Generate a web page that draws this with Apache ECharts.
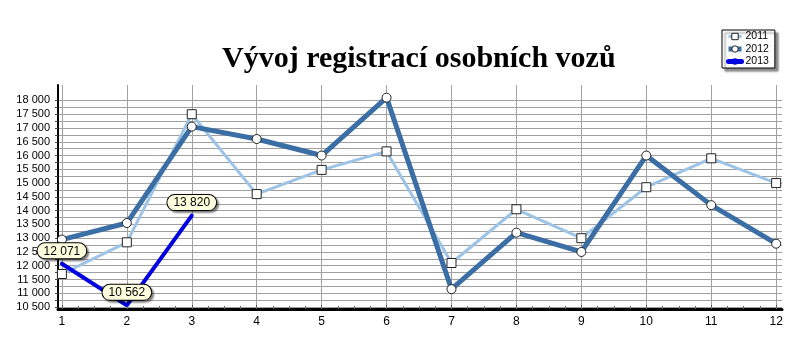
<!DOCTYPE html>
<html>
<head>
<meta charset="utf-8">
<script src="https://cdn.jsdelivr.net/npm/echarts@6/dist/echarts.min.js"></script>
<style>html,body{margin:0;padding:0;background:#fff}#c{width:800px;height:359px}</style>
</head>
<body>
<div id="c"></div>
<script>
const months = [1,2,3,4,5,6,7,8,9,10,11,12];
const s2011 = [11700, 12850, 17500, 14600, 15480, 16150, 12100, 14050, 13000, 14850, 15900, 15000];
const s2012 = [12950, 13550, 17050, 16600, 16000, 18100, 11150, 13200, 12500, 16000, 14200, 12800];
const s2013 = [12071, 10562, 13820];
const yLabelValues = [10500,11000,11500,12000,12500,13000,13500,14000,14500,15000,15500,16000,16500,17000,17500,18000];
const yGridValues = [10500,10750,11000,11250,11500,11750,12000,12250,12500,12750,13000,13250,13500,13750,14000,14250,14500,14750,15000,15250,15500,15750,16000,16250,16500,16750,17000,17250,17500,17750,18000];
const xMinorValues = [];
for (let i = 1; i <= 12; i += 0.25) xMinorValues.push(i);

function fmt(v){ return String(v).replace(/\B(?=(\d{3})+(?!\d))/g, ' '); }
const pairs = (arr) => arr.map((v,i) => [months[i], v]);

const chart = echarts.init(document.getElementById('c'), null, {renderer:'canvas'});
chart.setOption({
  animation: false,
  backgroundColor: '#fff',
  title: {
    text: 'Vývoj registrací osobních vozů',
    left: 217, top: 39,
    textStyle: {fontFamily: '"Liberation Serif","Times New Roman",serif', fontWeight: 'bold', fontSize: 30, color: '#000'}
  },
  legend: {
    left: 722, top: 30, orient: 'vertical',
    padding: [1, 6, 1, 4], itemGap: 1.5, itemWidth: 13, itemHeight: 8,
    backgroundColor: '#fff', borderColor: '#000', borderWidth: 1,
    shadowColor: 'rgba(0,0,0,0.45)', shadowBlur: 2, shadowOffsetX: 3, shadowOffsetY: 3,
    textStyle: {fontFamily: '"Liberation Sans",Arial,sans-serif', fontSize: 10.5, lineHeight: 10, color: '#000', padding: [0,0,0,-1]},
    data: [
      {name: '2011', lineStyle: {color: '#9dc3e6', width: 3}, itemStyle: {color: '#fff', borderColor: '#222', borderWidth: 1}},
      {name: '2012', lineStyle: {color: '#3a6ea5', width: 5}, itemStyle: {color: '#fff', borderColor: '#222', borderWidth: 1}},
      {name: '2013', lineStyle: {color: '#0000e0', width: 5, cap: 'round'}, itemStyle: {color: '#0000e0', borderWidth: 0}}
    ]
  },
  grid: {left: 58, right: 18, top: 85, bottom: 50},
  xAxis: [{
    type: 'value', min: 0.94, max: 12.09,
    axisLine: {lineStyle: {color: '#000', width: 3}},
    axisTick: {show: true, customValues: months, length: 4, inside: true, lineStyle: {color: '#444'}},
    axisLabel: {customValues: months, margin: 7, color: '#000', fontSize: 12, fontFamily: '"Liberation Sans Narrow","Liberation Sans",Arial,sans-serif'},
    splitLine: {show: true, lineStyle: {color: '#a0a0a0', width: 1}}
  }, {
    type: 'value', min: 0.94, max: 12.09, position: 'bottom',
    axisLine: {show: false},
    axisTick: {show: true, customValues: xMinorValues, length: 3, inside: true, lineStyle: {color: '#666'}},
    axisLabel: {show: false},
    splitLine: {show: false}
  }],
  yAxis: {
    type: 'value', min: 10430, max: 18560,
    axisLine: {show: true, lineStyle: {color: '#000', width: 2}},
    axisTick: {show: true, customValues: yGridValues, length: 3, lineStyle: {color: '#444'}},
    axisLabel: {customValues: yLabelValues, margin: 8, color: '#000', fontSize: 11, fontFamily: '"Liberation Sans",Arial,sans-serif', formatter: (v) => fmt(v)},
    splitLine: {show: true, lineStyle: {color: '#a0a0a0', width: 1}}
  },
  series: [
    {
      name: '2011', type: 'line', data: pairs(s2011),
      symbol: 'rect', symbolSize: 9, showAllSymbol: true,
      lineStyle: {color: '#9dc3e6', width: 3},
      itemStyle: {color: '#fff', borderColor: '#222', borderWidth: 1},
      z: 2
    },
    {
      name: '2012', type: 'line', data: pairs(s2012),
      symbol: 'circle', symbolSize: 9, showAllSymbol: true,
      lineStyle: {color: '#3a6ea5', width: 5},
      itemStyle: {color: '#fff', borderColor: '#222', borderWidth: 1},
      z: 3
    },
    {
      name: '2013', type: 'line', data: pairs(s2013),
      symbol: 'circle', symbolSize: 1, showAllSymbol: true,
      lineStyle: {color: '#0000e0', width: 4, cap: 'round'},
      itemStyle: {color: '#0000e0'},
      label: {
        show: true, position: 'top', distance: 5,
        formatter: (p) => fmt(p.value[1]),
        fontFamily: '"Liberation Sans",Arial,sans-serif', fontSize: 12, color: '#000',
        backgroundColor: '#ffffe0', borderColor: '#000', borderWidth: 1, borderRadius: 9,
        padding: [2, 6, 1, 6],
        shadowColor: 'rgba(0,0,0,0.4)', shadowBlur: 2, shadowOffsetX: 2, shadowOffsetY: 2
      },
      z: 4
    }
  ]
});
</script>
</body>
</html>
